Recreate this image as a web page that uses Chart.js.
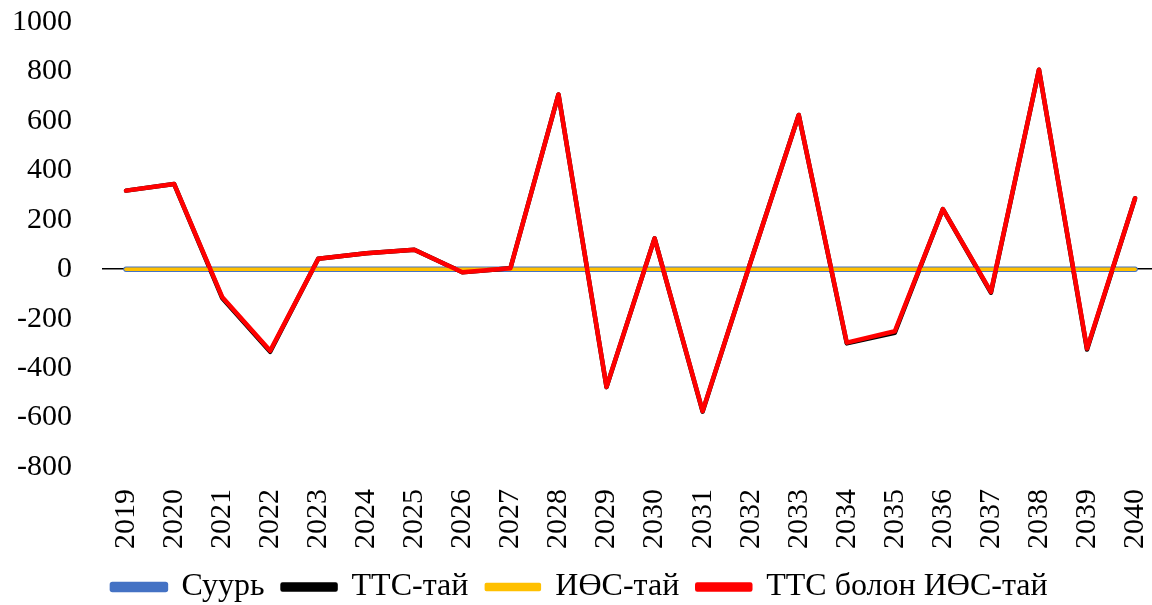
<!DOCTYPE html>
<html>
<head>
<meta charset="utf-8">
<script src="https://cdn.jsdelivr.net/npm/chart.js@4/dist/chart.umd.min.js"></script>
<style>
  html, body { margin: 0; padding: 0; background: #fff; overflow: hidden; }
  #wrap { position: relative; width: 1152px; height: 605px; }
</style>
</head>
<body>
<div id="wrap"><canvas id="c" width="1152" height="605"></canvas></div>
<script>
const categories = ['2019','2020','2021','2022','2023','2024','2025','2026','2027','2028','2029','2030','2031','2032','2033','2034','2035','2036','2037','2038','2039','2040'];
const seriesNames = ['Суурь', 'ТТС-тай', 'ИӨС-тай', 'ТТС болон ИӨС-тай'];
const suur = [0,0,0,0,0,0,0,0,0,0,0,0,0,0,0,0,0,0,0,0,0,0];
const ttsTai = [318,345,-116,-334,42,65,79,-12,4,707,-477,125,-576,30,624,-300,-257,243,-95,807,-325,287];
const iosTai = [0,0,0,0,0,0,0,0,0,0,0,0,0,0,0,0,0,0,0,0,0,0];
const ttsIos = [318,345,-112,-330,42,65,79,-12,4,707,-476,125,-574,30,624,-297,-251,243,-92,807,-321,287];
const yTicks = [-800,-600,-400,-200,0,200,400,600,800,1000];

const FONT = "'Liberation Serif', 'Times New Roman', serif";
const toPts = arr => arr.map((v, i) => ({ x: i, y: v }));

const datasets = [
  { label: seriesNames[0], data: toPts(suur),   borderColor: '#4472C4', backgroundColor: '#4472C4', borderWidth: 5.5, order: 3 },
  { label: seriesNames[1], data: toPts(ttsTai), borderColor: '#000000', backgroundColor: '#000000', borderWidth: 4.5, order: 2 },
  { label: seriesNames[2], data: toPts(iosTai), borderColor: '#FFC000', backgroundColor: '#FFC000', borderWidth: 3.5, order: 1 },
  { label: seriesNames[3], data: toPts(ttsIos), borderColor: '#FF0000', backgroundColor: '#FF0000', borderWidth: 4.5, order: 0 }
].map(d => Object.assign(d, { pointRadius: 0, pointHoverRadius: 0, tension: 0, borderCapStyle: 'round', borderJoinStyle: 'round', fill: false }));

new Chart(document.getElementById('c'), {
  type: 'line',
  data: { datasets },
  options: {
    responsive: false,
    animation: false,
    layout: { padding: { top: 22, left: 8, right: 0, bottom: -8 } },
    plugins: {
      tooltip: { enabled: false },
      legend: {
        position: 'bottom',
        labels: {
          font: { family: FONT, size: 32 },
          color: '#000',
          boxWidth: 53,
          boxHeight: 5,
          padding: 18,
          sort: (a, b) => a.datasetIndex - b.datasetIndex
        }
      }
    },
    scales: {
      x: {
        type: 'linear',
        min: -0.5,
        max: (1152 - 102) / 48.05 - 0.5,
        afterFit: s => { s.height = 86; s.paddingLeft = 0; s.paddingRight = 0; },
        grid: { display: false },
        border: { display: false },
        ticks: {
          stepSize: 1,
          includeBounds: false,
          autoSkip: false,
          minRotation: 90,
          maxRotation: 90,
          padding: 14,
          color: '#000',
          font: { family: FONT, size: 30 },
          callback: v => categories[v]
        }
      },
      y: {
        min: yTicks[0],
        max: yTicks[yTicks.length - 1],
        afterFit: s => { s.width = 94; s.paddingTop = 0; s.paddingBottom = 0; },
        afterBuildTicks: s => { s.ticks = yTicks.map(v => ({ value: v })); },
        border: { display: false },
        grid: {
          drawTicks: false,
          lineWidth: 1.5,
          color: ctx => (ctx.tick && ctx.tick.value === 0) ? '#000' : 'rgba(0,0,0,0)'
        },
        ticks: {
          padding: 30,
          color: '#000',
          font: { family: FONT, size: 30 },
          callback: v => String(v)
        }
      }
    }
  }
});
</script>
</body>
</html>
